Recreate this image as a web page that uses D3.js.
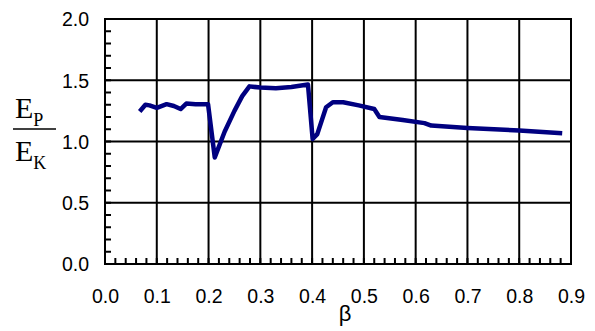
<!DOCTYPE html>
<html><head><meta charset="utf-8">
<script src="https://cdn.jsdelivr.net/npm/d3@7"></script>
<style>html,body{margin:0;padding:0;background:#fff;}svg{display:block;}</style>
</head><body>
<script>
const beta = [0.067,0.078,0.086,0.100,0.119,0.133,0.146,0.157,0.175,0.199,0.212,0.231,0.250,0.265,0.279,0.300,0.330,0.360,0.392,0.401,0.410,0.427,0.440,0.460,0.490,0.520,0.530,0.575,0.617,0.630,0.700,0.800,0.883];
const ratio = [1.245,1.300,1.295,1.275,1.305,1.290,1.265,1.310,1.305,1.305,0.870,1.080,1.250,1.370,1.450,1.440,1.435,1.445,1.465,1.020,1.060,1.280,1.320,1.320,1.295,1.265,1.200,1.175,1.150,1.130,1.110,1.090,1.067];
const xTicks = [0,0.1,0.2,0.3,0.4,0.5,0.6,0.7,0.8,0.9];
const yTicks = [0,0.5,1.0,1.5,2.0];

const W=595,H=331;
const svg=d3.select("body").append("svg").attr("width",W).attr("height",H);
const x=d3.scaleLinear().domain([0,0.9]).range([105,571]);
const y=d3.scaleLinear().domain([0,2]).range([264,19]);

// gridlines
svg.append("g").selectAll("line").data(xTicks.slice(1,-1)).join("line")
  .attr("x1",d=>x(d)).attr("x2",d=>x(d)).attr("y1",y(2)).attr("y2",y(0))
  .attr("stroke","#000").attr("stroke-width",2);
svg.append("g").selectAll("line").data(yTicks.slice(1,-1)).join("line")
  .attr("y1",d=>y(d)).attr("y2",d=>y(d)).attr("x1",x(0)).attr("x2",x(0.9))
  .attr("stroke","#000").attr("stroke-width",2);

// minor ticks
const yMinor=d3.range(1,20).map(i=>i/10);
svg.append("g").selectAll("line").data(yMinor).join("line")
  .attr("x1",x(0)).attr("x2",x(0)+6).attr("y1",d=>y(d)).attr("y2",d=>y(d))
  .attr("stroke","#000").attr("stroke-width",2);
const xMinor=d3.range(1,45).map(i=>i*0.02);
svg.append("g").selectAll("line").data(xMinor).join("line")
  .attr("x1",d=>x(d)).attr("x2",d=>x(d)).attr("y1",y(0)).attr("y2",y(0)-6)
  .attr("stroke","#000").attr("stroke-width",2);

// frame
svg.append("rect").attr("x",x(0)).attr("y",y(2)).attr("width",x(0.9)-x(0)).attr("height",y(0)-y(2))
  .attr("fill","none").attr("stroke","#000").attr("stroke-width",2);

// axes labels
const xAxis=d3.axisBottom(x).tickValues(xTicks).tickFormat(d3.format(".1f")).tickSize(0).tickPadding(0);
const gx=svg.append("g").attr("transform",`translate(0,${y(0)})`).call(xAxis);
gx.select(".domain").remove();
gx.selectAll("text").attr("dy",null).attr("y",39).attr("font-family","Liberation Sans, Arial, sans-serif").attr("font-size",19.5).attr("fill","#000");

const yAxis=d3.axisLeft(y).tickValues(yTicks).tickFormat(d3.format(".1f")).tickSize(0).tickPadding(0);
const gy=svg.append("g").attr("transform",`translate(${x(0)},0)`).call(yAxis);
gy.select(".domain").remove();
gy.selectAll("text").attr("x",-16).attr("dy","0.35em").attr("font-family","Liberation Sans, Arial, sans-serif").attr("font-size",19.5).attr("fill","#000");

// line
svg.append("path").datum(beta.map((b,i)=>[b,ratio[i]]))
  .attr("d",d3.line().x(d=>x(d[0])).y(d=>y(d[1])))
  .attr("fill","none").attr("stroke","#000080").attr("stroke-width",4.5)
  .attr("stroke-linejoin","round").attr("stroke-linecap","butt");

// axis titles
svg.append("text").attr("x",345).attr("y",321).attr("text-anchor","middle")
  .attr("font-family","Liberation Sans, Arial, sans-serif").attr("font-size",22).text("β");

const tf="Liberation Serif, Times New Roman, serif";
const t1=svg.append("text").attr("x",15).attr("y",118).attr("font-family",tf).attr("font-size",30);
t1.append("tspan").text("E");
t1.append("tspan").attr("font-size",18).attr("dy",8).text("P");
svg.append("line").attr("x1",13).attr("x2",56).attr("y1",129).attr("y2",129).attr("stroke","#000").attr("stroke-width",1.5);
const t2=svg.append("text").attr("x",15).attr("y",161).attr("font-family",tf).attr("font-size",30);
t2.append("tspan").text("E");
t2.append("tspan").attr("font-size",18).attr("dy",8).text("K");
</script>
</body></html>
